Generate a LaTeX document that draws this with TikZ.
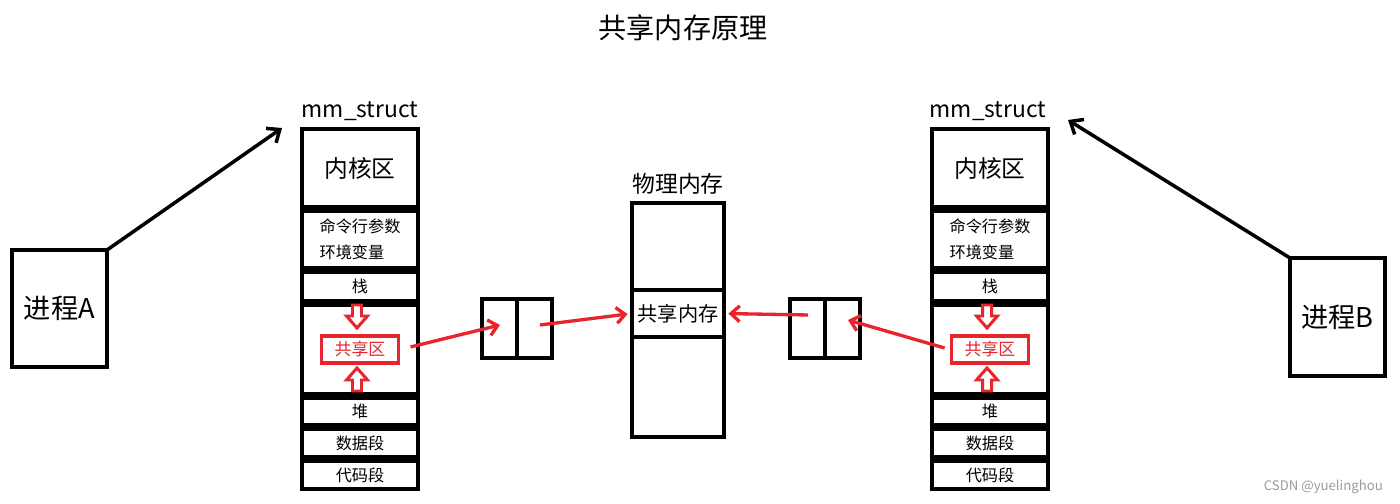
\documentclass[tikz,border=0pt]{standalone}
\usepackage{fontspec}
\setmainfont{Noto Sans CJK SC}
\usetikzlibrary{arrows.meta, positioning}
\definecolor{shred}{HTML}{E8242C}
\definecolor{wmgray}{HTML}{9A9A9A}
\tikzset{
  seg/.style={draw, line width=1.8pt, minimum width=2.32cm, inner sep=0pt,
              outer sep=0pt, align=center, font=\fontsize{9.2}{14.7}\selectfont},
  box/.style={draw, line width=2pt, inner sep=0pt, outer sep=0pt, align=center},
  shbox/.style={draw=shred, line width=2pt, minimum width=1.54cm,
                minimum height=0.54cm, inner sep=0pt, text=shred,
                font=\fontsize{9.6}{11}\selectfont},
  ar/.style={-{Straight Barb[length=6pt, width=10pt]}, line width=2pt},
  rar/.style={-{Straight Barb[length=5pt, width=9pt]}, shred, line width=1.9pt},
  hol/.style={draw=shred, line width=1.7pt, fill=white, line join=miter},
  holarrow/.pic={\draw[hol] (-0.09,0.22) -- (-0.09,0) -- (-0.21,0) -- (0,-0.24)
                 -- (0.21,0) -- (0.09,0) -- (0.09,0.22) -- cycle;},
}

\begin{document}
\begin{tikzpicture}
  \useasboundingbox (0,0) rectangle (28,10.08);
  \node[font=\fontsize{16}{19}\selectfont] (title) at (13.66,9.52) {共享内存原理};

  % process A and its mm_struct
  \node[box, minimum width=1.9cm, minimum height=2.34cm,
        font=\fontsize{15.5}{18}\selectfont] (pA) at (1.19,3.91) {进程A};
  \node[seg, minimum height=1.56cm, anchor=north,
        font=\fontsize{13.5}{15}\selectfont] (kA) at (7.2,7.5) {内核区};
  \node[font=\fontsize{13}{15}\selectfont, anchor=base] (mA) at (7.2,7.72) {mm\_struct};
  \node[seg, minimum height=1.14cm, align=left, below=0.08cm of kA] (cA) {命令行参数\\环境变量};
  \node[seg, minimum height=0.58cm, below=0.08cm of cA] (zA) {栈};
  \node[seg, minimum height=1.78cm, below=0.08cm of zA] (sA) {};
  \node[seg, minimum height=0.54cm, below=0.08cm of sA] (hA) {堆};
  \node[seg, minimum height=0.56cm, below=0.08cm of hA] (dA) {数据段};
  \node[seg, minimum height=0.56cm, below=0.08cm of dA] (tA) {代码段};
  \node[shbox] (shA) at (sA.center) {共享区};
  \pic at (7.14,3.76) {holarrow};
  \pic[rotate=180] at (7.14,2.48) {holarrow};

  % page table A
  \node[box, minimum width=0.7cm, minimum height=1.18cm] (ptA1) at (9.99,3.51) {};
  \node[box, minimum width=0.7cm, minimum height=1.18cm, right=0cm of ptA1] (ptA2) {};

  % physical memory
  \node[box, minimum width=1.84cm, minimum height=1.74cm, anchor=north] (pm1) at (13.56,6.02) {};
  \node[font=\fontsize{13}{15}\selectfont, above=0.04cm of pm1] (pmL) {物理内存};
  \node[box, minimum width=1.84cm, minimum height=0.94cm, below=0cm of pm1,
        font=\fontsize{11.5}{14}\selectfont] (pm2) {共享内存};
  \node[box, minimum width=1.84cm, minimum height=2cm, below=0cm of pm2] (pm3) {};

  % page table B
  \node[box, minimum width=0.7cm, minimum height=1.18cm] (ptB1) at (16.15,3.51) {};
  \node[box, minimum width=0.7cm, minimum height=1.18cm, right=0cm of ptB1] (ptB2) {};

  % process B and its mm_struct
  \node[box, minimum width=1.9cm, minimum height=2.36cm,
        font=\fontsize{15.5}{18}\selectfont] (pB) at (26.75,3.74) {进程B};
  \node[seg, minimum height=1.56cm, anchor=north,
        font=\fontsize{13.5}{15}\selectfont] (kB) at (19.8,7.5) {内核区};
  \node[font=\fontsize{13}{15}\selectfont, anchor=base] (mB) at (19.76,7.72) {mm\_struct};
  \node[seg, minimum height=1.14cm, align=left, below=0.08cm of kB] (cB) {命令行参数\\环境变量};
  \node[seg, minimum height=0.58cm, below=0.08cm of cB] (zB) {栈};
  \node[seg, minimum height=1.78cm, below=0.08cm of zB] (sB) {};
  \node[seg, minimum height=0.54cm, below=0.08cm of sB] (hB) {堆};
  \node[seg, minimum height=0.56cm, below=0.08cm of hB] (dB) {数据段};
  \node[seg, minimum height=0.56cm, below=0.08cm of dB] (tB) {代码段};
  \node[shbox] (shB) at (sB.center) {共享区};
  \pic at (19.74,3.76) {holarrow};
  \pic[rotate=180] at (19.74,2.48) {holarrow};

  \node[text=wmgray, font=\fontsize{7.5}{9}\selectfont, anchor=east] (wm) at (27.78,0.34) {CSDN @yuelinghou};

  % loose ends of the arrows
  \coordinate (tipA) at (5.64,7.52);
  \coordinate (tipB) at (21.36,7.68);
  \coordinate (eA) at (10.0,3.58);
  \coordinate (sA2) at (10.8,3.58);
  \coordinate (sB1) at (16.16,3.78);
  \coordinate (eB) at (16.96,3.68);

  \draw[ar] (pA.north east) -- (tipA);
  \draw[ar] (pB.north west) -- (tipB);
  \draw[rar, shorten <=6pt] (shA.east) -- (eA);
  \draw[rar, shorten >=2.5pt] (sA2) -- (pm2.west);
  \draw[rar, shorten >=2.5pt] (sB1) -- (pm2.east);
  \draw[rar, shorten <=3pt] (shB.west) -- (eB);
\end{tikzpicture}
\end{document}
